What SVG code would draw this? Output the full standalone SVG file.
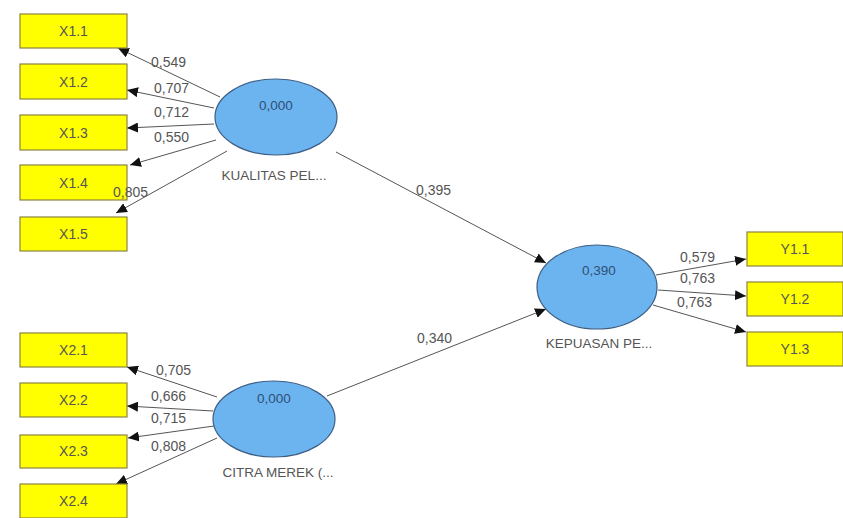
<svg xmlns="http://www.w3.org/2000/svg" width="843" height="518" viewBox="0 0 843 518">
<defs>
<marker id="ah" markerUnits="userSpaceOnUse" markerWidth="12" markerHeight="10" refX="11" refY="5" orient="auto">
<path d="M0,0 L11,5 L0,10 z" fill="#111"/>
</marker>
<style>
.box{fill:#ffff00;stroke:#8a8440;stroke-width:1.2}
.bt{font-family:"Liberation Sans",Arial,sans-serif;font-size:14px;fill:#555;text-anchor:middle}
.lv{fill:#6cb4f0;stroke:#3d5f85;stroke-width:1.2}
.lt{font-family:"Liberation Sans",Arial,sans-serif;font-size:13.5px;fill:#2f4f75;text-anchor:middle}
.ln{font-family:"Liberation Sans",Arial,sans-serif;font-size:13.5px;fill:#555;text-anchor:middle}
.num{font-family:"Liberation Sans",Arial,sans-serif;font-size:14px;fill:#555}
.c{stroke:#555;stroke-width:1;fill:none;marker-end:url(#ah)}
</style>
</defs>
<rect width="843" height="518" fill="#fff"/>
<g id="connectors">
<line class="c" x1="220" y1="97" x2="118" y2="48"/>
<line class="c" x1="214" y1="108" x2="127" y2="90"/>
<line class="c" x1="214" y1="124" x2="127" y2="128"/>
<line class="c" x1="216" y1="140" x2="130" y2="165"/>
<line class="c" x1="227" y1="151" x2="116" y2="213"/>
<line class="c" x1="217" y1="397" x2="127" y2="367"/>
<line class="c" x1="213" y1="411" x2="127" y2="406"/>
<line class="c" x1="214" y1="426" x2="128" y2="438"/>
<line class="c" x1="217" y1="438" x2="116" y2="484"/>
<line class="c" x1="336" y1="152" x2="546" y2="263"/>
<line class="c" x1="327" y1="396" x2="546" y2="309"/>
<line class="c" x1="656" y1="275" x2="746" y2="259"/>
<line class="c" x1="658" y1="290" x2="746" y2="296"/>
<line class="c" x1="653" y1="305" x2="746" y2="332"/>
</g>
<g id="X1.1"><rect class="box" x="20" y="14" width="107" height="34"/><text class="bt" x="73.5" y="36">X1.1</text></g>
<g id="X1.2"><rect class="box" x="20" y="64" width="107" height="35"/><text class="bt" x="73.5" y="87">X1.2</text></g>
<g id="X1.3"><rect class="box" x="20" y="115" width="107" height="35"/><text class="bt" x="73.5" y="138">X1.3</text></g>
<g id="X1.4"><rect class="box" x="20" y="165" width="107" height="35"/><text class="bt" x="73.5" y="188">X1.4</text></g>
<g id="X1.5"><rect class="box" x="20" y="217" width="107" height="34"/><text class="bt" x="73.5" y="239">X1.5</text></g>
<g id="X2.1"><rect class="box" x="20" y="333" width="107" height="34"/><text class="bt" x="73.5" y="355">X2.1</text></g>
<g id="X2.2"><rect class="box" x="20" y="383" width="107" height="34"/><text class="bt" x="73.5" y="405">X2.2</text></g>
<g id="X2.3"><rect class="box" x="20" y="435" width="107" height="33"/><text class="bt" x="73.5" y="456">X2.3</text></g>
<g id="X2.4"><rect class="box" x="20" y="484" width="107" height="34"/><text class="bt" x="73.5" y="506">X2.4</text></g>
<g id="Y1.1"><rect class="box" x="747" y="232" width="96" height="34"/><text class="bt" x="795" y="254">Y1.1</text></g>
<g id="Y1.2"><rect class="box" x="747" y="282" width="96" height="34"/><text class="bt" x="795" y="304">Y1.2</text></g>
<g id="Y1.3"><rect class="box" x="747" y="332" width="96" height="34"/><text class="bt" x="795" y="354">Y1.3</text></g>
<g id="KUALITAS"><ellipse class="lv" cx="276" cy="117" rx="61" ry="38"/><text class="lt" x="276" y="110">0,000</text><text class="ln" x="274" y="180">KUALITAS PEL...</text></g>
<g id="CITRA"><ellipse class="lv" cx="274" cy="419" rx="61" ry="38"/><text class="lt" x="274" y="403">0,000</text><text class="ln" x="278" y="477">CITRA MEREK (...</text></g>
<g id="KEPUASAN"><ellipse class="lv" cx="597" cy="287" rx="60" ry="42"/><text class="lt" x="599" y="275">0,390</text><text class="ln" x="599" y="348">KEPUASAN PE...</text></g>
<g id="weights">
<text class="num" x="151" y="67">0,549</text>
<text class="num" x="154" y="93">0,707</text>
<text class="num" x="154" y="117">0,712</text>
<text class="num" x="154" y="142">0,550</text>
<text class="num" x="113" y="197">0,805</text>
<text class="num" x="156" y="375">0,705</text>
<text class="num" x="151" y="401">0,666</text>
<text class="num" x="151" y="423">0,715</text>
<text class="num" x="151" y="451">0,808</text>
<text class="num" x="416" y="195">0,395</text>
<text class="num" x="417" y="343">0,340</text>
<text class="num" x="680" y="262">0,579</text>
<text class="num" x="680" y="283">0,763</text>
<text class="num" x="677" y="307">0,763</text>
</g>
</svg>
